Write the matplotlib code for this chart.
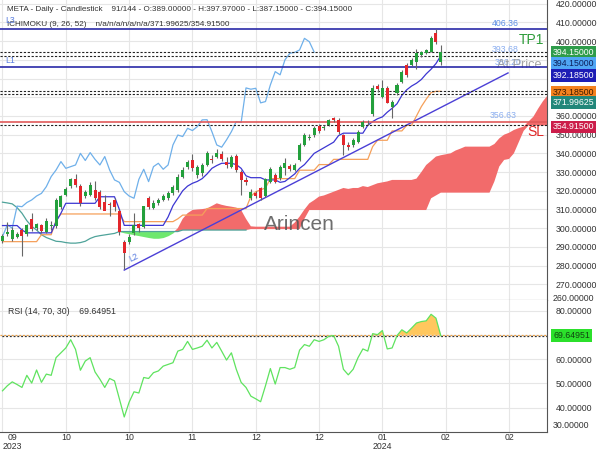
import numpy as np
import matplotlib
matplotlib.use("Agg")
import matplotlib.pyplot as plt
from matplotlib.ticker import FuncFormatter

plt.rcParams['font.family'] = ['Liberation Sans', 'DejaVu Sans']

# ---- candles (daily, index 0..90) ----
opens = [293.0, 297.0, 294.0, 295.5, 299.0, 297.0, 305.0, 300.0, 301.5, 298.0,
         301.0, 301.0, 311.5, 318.0, 322.5, 326.5, 322.5, 317.0, 318.0, 320.5,
         319.5, 314.0, 313.0, 315.0, 309.0, 292.5, 292.5, 297.5, 302.0, 300.8,
         316.0, 310.6, 313.3, 315.1, 316.0, 318.6, 320.4, 327.6, 332.5, 336.5,
         328.4, 329.4, 333.8, 337.0, 338.3, 339.7, 335.6, 332.9, 338.6, 330.2,
         325.5, 316.0, 318.6, 321.3, 317.2, 324.9, 328.4, 326.7, 332.0, 333.3,
         331.1, 336.5, 344.5, 348.1, 349.8, 354.7, 353.4, 355.2, 358.8, 357.9,
         349.8, 344.5, 344.5, 346.3, 354.3, 356.0, 361.0, 376.0, 370.3, 374.8,
         365.0, 372.1, 378.4, 387.3, 387.3, 389.0, 392.6, 393.9, 394.4, 404.2,
         389.0]
highs = [297.0, 303.5, 300.5, 298.0, 300.0, 302.5, 308.0, 303.0, 302.5, 305.5,
         304.0, 316.0, 318.0, 322.0, 327.0, 329.0, 323.5, 320.5, 324.5, 325.0,
         320.5, 317.5, 314.0, 316.0, 310.0, 293.5, 297.0, 308.0, 303.0, 312.0,
         317.0, 315.0, 316.0, 318.5, 320.0, 323.0, 329.0, 332.5, 336.5, 339.5,
         334.0, 335.0, 341.5, 339.0, 342.5, 341.0, 338.0, 339.0, 339.5, 331.0,
         327.5, 321.0, 320.0, 322.0, 327.0, 332.5, 329.5, 334.0, 337.4, 334.5,
         335.0, 345.5, 351.0, 350.5, 354.5, 355.5, 355.0, 358.5, 359.5, 359.0,
         350.5, 346.0, 348.0, 352.5, 358.0, 358.0, 376.5, 377.0, 379.3, 376.0,
         368.5, 377.5, 384.5, 388.5, 391.0, 396.0, 394.5, 396.0, 402.5, 406.36,
         397.97]
lows = [292.0, 296.0, 293.0, 294.5, 285.0, 296.0, 298.5, 299.0, 297.5, 297.5,
        299.0, 300.0, 310.5, 317.0, 321.5, 322.0, 312.0, 316.0, 317.0, 315.0,
        310.5, 313.0, 306.5, 309.0, 296.5, 278.0, 291.5, 296.5, 298.0, 300.0,
        310.5, 310.0, 312.5, 314.5, 315.0, 317.5, 319.5, 327.0, 331.5, 330.5,
        327.0, 328.0, 333.0, 335.0, 337.5, 336.0, 332.0, 332.0, 330.0, 318.0,
        323.0, 315.0, 316.0, 315.0, 316.5, 324.0, 324.0, 326.0, 328.5, 330.5,
        330.5, 336.0, 344.0, 347.0, 349.0, 351.0, 352.5, 354.5, 357.0, 350.5,
        339.1, 342.0, 343.5, 345.5, 353.5, 355.0, 360.0, 373.0, 369.5, 367.0,
        358.7, 371.0, 377.5, 381.0, 386.5, 385.0, 391.5, 393.0, 394.0, 398.5,
        387.15]
closes = [296.0, 298.0, 299.0, 297.0, 296.0, 301.5, 299.5, 302.0, 298.5, 304.0,
          301.5, 315.0, 317.0, 321.0, 326.5, 323.0, 313.5, 319.5, 323.0, 316.0,
          311.5, 309.0, 312.5, 311.5, 298.0, 286.5, 295.5, 301.8, 300.0, 311.8,
          311.5, 313.7, 315.1, 317.2, 318.6, 322.2, 327.6, 331.1, 335.6, 332.0,
          332.9, 333.8, 340.0, 336.2, 340.4, 336.8, 333.8, 338.3, 331.1, 325.8,
          324.5, 319.5, 317.2, 316.0, 326.1, 331.5, 324.9, 332.9, 334.7, 331.5,
          333.8, 344.5, 349.8, 349.0, 353.4, 352.2, 354.3, 357.9, 358.0, 351.6,
          344.5, 343.3, 347.2, 351.6, 357.0, 356.5, 375.0, 374.3, 374.8, 367.0,
          367.7, 376.6, 383.7, 382.0, 390.0, 393.5, 394.0, 395.3, 401.5, 399.7,
          394.15]

# ---- ichimoku lines ----
tenkan = ([301.4] * 4 + [299.0] + [297.5] * 6 + [303.5, 308.0] + [313.3] * 7 +
          [316.8] * 4 + [310.0] + [301.5] * 9 +
          [306.0, 312.0, 316.0, 320.0, 322.5, 324.0, 325.0, 326.5, 329.0, 332.0, 333.5] +
          [334.7] * 3 + [334.0, 332.0, 328.0] + [327.0] * 3 + [325.8] * 3 +
          [324.5, 325.0, 327.0, 329.0, 332.0, 334.0, 337.0, 340.0, 341.5, 343.0,
           344.5, 346.0, 349.5] + [350.8] * 5 +
          [355.0, 357.0, 358.5, 359.5, 362.0, 364.1, 366.5, 371.0, 374.0, 376.0,
           377.5, 379.5, 382.5, 385.0, 388.0, 392.185])
kijun = ([292.8] * 8 + [296.5] * 3 + [304.0] + [307.6] * 13 + [303.5] * 11 +
         [305.0] + [307.0] * 5 + [310.5] * 9 + [317.0, 319.5, 320.5, 321.5] +
         [326.5] * 6 + [331.0] * 4 + [334.0] * 3 + [336.8] * 8 + [343.6] +
         [347.0] * 3 + [352.0] * 3 + [355.0] * 2 +
         [360.0, 365.0, 369.0, 372.5, 373.185, 373.185])
span_a = ([np.nan] * 24 +
          [298.2, 297.5, 297.0, 296.5, 296.0, 295.5, 295.0, 294.6, 294.6, 295.0,
           296.0, 297.5, 300.0, 305.0, 308.0, 309.7, 310.0, 310.2, 310.6, 311.9,
           313.3, 312.5, 311.9, 311.5, 311.0, 309.7, 305.0, 301.0] +
          [300.8] * 8 +
          [303.0, 306.2, 310.0, 313.3, 315.0, 316.9, 317.5, 318.5, 319.5, 320.5,
           321.5, 321.0, 321.5, 321.5, 322.5, 322.0, 323.0, 324.0, 324.5, 325.0] +
          [325.8] * 5 +
          [326.5, 330.0, 333.8, 336.0, 338.3, 339.0, 339.5, 340.0, 341.5, 342.5] +
          [343.6] * 6 +
          [345.0, 348.0, 350.0, 351.0, 352.5, 353.5, 354.3, 357.0, 359.6, 364.0,
           368.0, 371.2] + [372.0] * 4)
span_b = ([313.9, 313.5, 313.0, 311.0, 308.0, 304.0, 301.0, 299.0, 296.5, 295.0,
           294.0, 293.0, 292.8, 292.3, 292.0, 292.0, 292.3, 293.0, 294.5, 295.5,
           296.0, 296.4, 296.8, 297.2] +
          [298.2] * 13 + [299.0] * 14 + [299.5] * 11 + [305.0] + [309.7] * 25 +
          [316.0, 317.5] + [319.0] * 11 +
          [325.0, 333.0, 336.5, 337.0, 340.0, 346.0, 352.0] + [354.9] * 9)

rsi = [46.9, 49.0, 50.6, 49.5, 48.3, 53.3, 50.1, 55.5, 50.4, 53.8,
       53.3, 60.6, 62.6, 64.6, 68.0, 64.0, 55.4, 59.2, 60.6, 54.7,
       51.7, 48.3, 52.0, 51.0, 43.6, 36.1, 42.2, 46.5, 46.0, 52.4,
       52.0, 54.4, 55.1, 57.1, 57.8, 58.5, 63.3, 64.0, 67.3, 64.0,
       64.6, 65.3, 67.8, 64.6, 66.9, 63.3, 59.6, 62.6, 55.8, 50.4,
       48.3, 44.7, 43.6, 42.4, 49.0, 56.1, 49.7, 56.5, 56.5, 55.8,
       56.5, 63.7, 66.0, 65.3, 68.0, 67.3, 68.0, 69.4, 69.7, 65.3,
       55.8, 53.5, 55.8, 60.6, 64.2, 63.3, 70.5, 70.1, 71.8, 64.2,
       64.6, 69.7, 72.1, 70.8, 72.8, 74.9, 75.5, 75.8, 78.5, 76.9,
       69.64951]

# levels drawn on the chart
level_l3 = 406.36
level_l1 = 386.20
level_sl = 356.63
trend_pts = [(25, 277.6), (103.8, 383.0)]
last_values = [394.15, 392.185, 373.185, 371.99625, 354.915]

x_ticks = [0, 13, 26, 39, 52, 65, 78, 91, 104]
x_labels = ["09\n2023", "10", "10", "11", "12", "12", "01\n2024", "02", "02"]
price_ticks = list(range(270, 430, 10))

o = np.array(opens); h = np.array(highs); l = np.array(lows); c = np.array(closes)
idx = np.arange(len(c))
j = np.arange(len(span_b))
sa = np.array(span_a); sb = np.array(span_b)

fig = plt.figure(figsize=(6, 4.5), dpi=100)
ax = fig.add_axes([0, 150 / 450, 547 / 600, 300 / 450])
ax2 = fig.add_axes([0, 18 / 450, 547 / 600, 132 / 450], sharex=ax)

grid_c = "#e6e6e6"
fs = 6.3
ax.set_xlim(-0.51, 111.8)
ax.set_ylim(261.6, 422.0)

# cloud
ax.fill_between(j, sa, sb, where=sa >= sb, interpolate=True, color="#f26b6b", lw=0, zorder=1)
ax.fill_between(j, sa, sb, where=sa < sb, interpolate=True, color="#6ee86e", lw=0, zorder=1)
ax.plot(j[:51], sb[:51], color="#4fa39a", lw=0.9, zorder=2)

# ichimoku lines
ax.plot(idx[:len(c) - 26], c[26:], color="#6fb0ea", lw=0.9, zorder=3)
ax.plot(idx, kijun, color="#f5a05a", lw=0.9, zorder=3)
ax.plot(idx, tenkan, color="#3c36d2", lw=0.9, zorder=3)

# trendline
ax.plot([p[0] for p in trend_pts], [p[1] for p in trend_pts], color="#4b3fd6", lw=1.0, zorder=3)

# horizontal levels
ax.axhline(level_l3, color="#2a2aa8", lw=1.2, zorder=4)
ax.axhline(level_l1, color="#2a2aa8", lw=1.2, zorder=4)
ax.axhline(level_sl, color="#e05a5a", lw=1.2, zorder=4)
for v in last_values:
    ax.axhline(v, color="#222222", lw=0.8, ls=(0, (2, 1.5)), zorder=4)

# candles
up = c >= o
ax.vlines(idx, l, h, color="#666666", lw=0.8, zorder=5)
body_lo = np.minimum(o, c)
body_h = np.maximum(np.abs(c - o), 0.4)
ax.bar(idx[up], body_h[up], bottom=body_lo[up], width=0.62, color="#23a03c", zorder=6)
ax.bar(idx[~up], body_h[~up], bottom=body_lo[~up], width=0.62, color="#e3262b", zorder=6)

# axes styling
ax.set_yticks(price_ticks)
ax.yaxis.tick_right()
ax.yaxis.set_major_formatter(FuncFormatter(lambda v, _: "" if v in (370, 380, 390) else f"{v:.5f}"))
ax.tick_params(axis="y", length=0, pad=6, labelsize=fs, labelcolor="#333333")
ax.tick_params(axis="x", length=0, labelbottom=False)
ax.grid(True, color=grid_c, lw=0.8, zorder=0)
ax.set_axisbelow(True)
for s in ("top", "left"):
    ax.spines[s].set_visible(False)
ax.spines["right"].set_color("#555555")
ax.spines["bottom"].set_color("#555555")
ax.text(1.011, 262.3, "260.00000", transform=ax.get_yaxis_transform(), fontsize=fs,
        color="#333333", va="center", ha="left", clip_on=False)

# right side value boxes
boxes = [(393.9, "394.15000", "#2e9c4a", "white"),
         (388.0, "394.15000", "#4fa6f5", "#0c1f5a"),
         (381.6, "392.18500", "#1d1db5", "white"),
         (372.5, "373.18500", "#f5821f", "#3a1a00"),
         (367.3, "371.99625", "#22877a", "white"),
         (354.2, "354.91500", "#cc1d4a", "white")]
for yv, txt, fc, tc in boxes:
    ax.text(1.011, yv, txt, transform=ax.get_yaxis_transform(), fontsize=fs, color=tc,
            va="center", ha="left", clip_on=False,
            bbox=dict(boxstyle="square,pad=0.2", fc=fc, ec="none"))

# annotations
ax.text(0.012, 0.967, "META - Daily - Candlestick    91/144 - O:389.00000 - H:397.97000 - L:387.15000 - C:394.15000",
        transform=ax.transAxes, fontsize=5.9, color="#333333", va="center")
ax.text(0.012, 0.917, "ICHIMOKU (9, 26, 52)    n/a/n/a/n/a/n/a/371.99625/354.91500",
        transform=ax.transAxes, fontsize=5.9, color="#333333", va="center")
ax.text(0.5, 411.2, "L3", color="#5b7fe0", fontsize=fs, va="center")
ax.text(0.5, 389.6, "L1", color="#5b7fe0", fontsize=fs, va="center")
ax.text(25.6, 284.0, "L2", color="#5b7fe0", fontsize=fs, va="center", rotation=25)
ax.text(103.2, 409.5, "406.36", color="#5b8ee6", fontsize=fs, ha="center", va="center")
ax.text(103.2, 395.8, "393.68", color="#8aaef0", fontsize=fs, ha="center", va="center")
ax.text(103.8, 388.8, "386.20", color="#8aaef0", fontsize=fs, ha="center", va="center")
ax.text(102.8, 360.0, "356.63", color="#8aaef0", fontsize=fs, ha="center", va="center")
ax.text(106.0, 400.5, "TP1", color="#2e9c3a", fontsize=10, va="center")
ax.text(101.6, 387.5, "At Price", color="#9a9a9a", fontsize=9.2, va="center", alpha=0.9)
ax.text(107.8, 351.5, "SL", color="#e02828", fontsize=10, va="center")
ax.text(0.548, 0.253, "Arincen", transform=ax.transAxes, color="#555555", fontsize=15,
        ha="center", va="center", alpha=0.85, zorder=7)

# ---- RSI panel ----
r = np.array(rsi)
ax2.set_ylim(29.9, 84.4)
ax2.plot(idx, r, color="#5fe35f", lw=0.9, zorder=3)
ax2.fill_between(idx, r, 70, where=r > 70, interpolate=True, color="#ffc75e", lw=0, zorder=2)
ax2.axhline(70, color="#f0a040", lw=0.9, ls=(0, (1.5, 1.5)), zorder=2)
ax2.axhline(rsi[-1], color="#333333", lw=0.9, ls=(1.5, (1.5, 1.5)), zorder=2)
ax2.set_yticks([40, 50, 60, 70, 80])
ax2.yaxis.tick_right()
ax2.yaxis.set_major_formatter(FuncFormatter(lambda v, _: "" if v == 70 else f"{v:.5f}"))
ax2.tick_params(axis="y", length=0, pad=6, labelsize=fs, labelcolor="#333333")
ax2.text(1.011, 32.4, "30.00000", transform=ax2.get_yaxis_transform(), fontsize=fs,
         color="#333333", va="center", ha="left", clip_on=False)
ax2.text(1.011, rsi[-1], "69.64951", transform=ax2.get_yaxis_transform(), fontsize=fs,
         color="#114411", va="center", ha="left", clip_on=False,
         bbox=dict(boxstyle="square,pad=0.2", fc="#2be02b", ec="none"))
ax2.text(0.014, 0.915, "RSI (14, 70, 30)    69.64951", transform=ax2.transAxes,
         fontsize=fs, color="#333333", va="center")
ax2.grid(True, color=grid_c, lw=0.8, zorder=0)
ax2.set_axisbelow(True)
ax2.set_xticks(x_ticks)
ax2.set_xticklabels(x_labels, linespacing=0.95)
ax2.tick_params(axis="x", length=0, pad=1, labelsize=fs, labelcolor="#333333")
first = ax2.get_xticklabels()[0]
first.set_ha("left")
first.set_multialignment("center")
for s in ("top", "left"):
    ax2.spines[s].set_visible(False)
ax2.spines["right"].set_color("#555555")
ax2.spines["bottom"].set_color("#555555")

fig.savefig("out.png", dpi=100)
